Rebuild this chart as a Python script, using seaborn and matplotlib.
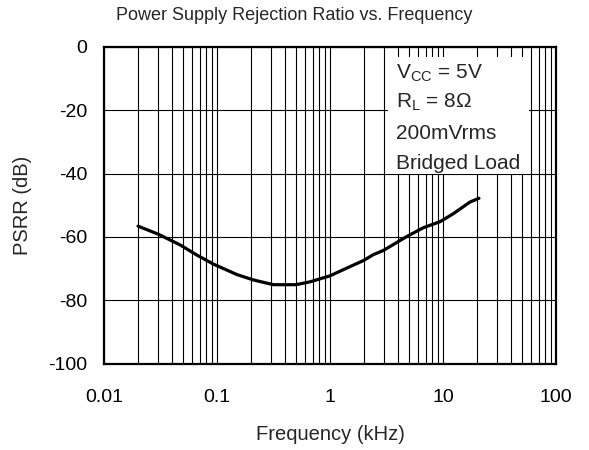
import matplotlib
matplotlib.use("Agg")
import matplotlib.pyplot as plt
import numpy as np
import pandas as pd
import seaborn as sns
from matplotlib.patches import Rectangle
from matplotlib.ticker import FixedLocator, LogLocator, NullFormatter


# values
freq_khz = [0.02, 0.03, 0.047, 0.066, 0.093, 0.15, 0.21, 0.315, 0.5, 0.665,
            1.0, 1.5, 1.97, 2.42, 2.96, 4.77, 6.7, 9.4, 12.3, 17.3, 20.8]
psrr_db = [-56.6, -59.1, -62.5, -65.7, -68.6, -71.9, -73.6, -75.1, -75.1, -74.2,
           -72.3, -69.4, -67.5, -65.6, -64.3, -59.9, -57.1, -55.2, -52.7, -49.0, -47.8]

x_ticks = [0.01, 0.1, 1, 10, 100]
x_tick_labels = ["0.01", "0.1", "1", "10", "100"]
y_ticks = [0, -20, -40, -60, -80, -100]

box_lines = [r"V$_{\rm CC}$ = 5V", r"R$_{\rm L}$ = 8Ω", "200mVrms", "Bridged Load"]


def main():
    sns.set_style("white")
    plt.rcParams["font.family"] = ["Liberation Sans", "DejaVu Sans"]
    plt.rcParams["mathtext.fontset"] = "custom"
    plt.rcParams["mathtext.rm"] = "Liberation Sans"
    plt.rcParams["axes.unicode_minus"] = False

    df = pd.DataFrame({"freq": freq_khz, "psrr": psrr_db})

    fig = plt.figure(figsize=(5.89, 4.5), dpi=100)
    ax = fig.add_axes([0.1766, 0.1922, 0.7674, 0.7034])

    sns.lineplot(data=df, x="freq", y="psrr", color="black", linewidth=2.3, ax=ax, zorder=4)

    ax.set_xscale("log")
    ax.set_xlim(0.01, 100)
    ax.set_ylim(-100, 0)
    ax.set_xticks(x_ticks)
    ax.set_xticklabels(x_tick_labels)
    ax.xaxis.set_minor_locator(LogLocator(base=10, subs=np.arange(2, 10)))
    ax.xaxis.set_minor_formatter(NullFormatter())
    ax.yaxis.set_major_locator(FixedLocator(y_ticks))

    ax.grid(True, which="major", axis="both", color="black", linewidth=0.8)
    ax.grid(True, which="minor", axis="x", color="black", linewidth=0.8)
    ax.set_axisbelow(True)

    ax.tick_params(which="both", length=0, labelsize=14, colors="black")
    ax.tick_params(axis="x", pad=18)
    ax.tick_params(axis="y", pad=12)
    for spine in ax.spines.values():
        spine.set_color("black")
        spine.set_linewidth(1.6)
        spine.set_zorder(5)

    ax.set_xlabel("Frequency (kHz)", fontsize=14.5, labelpad=14)
    ax.set_ylabel("PSRR (dB)", fontsize=14.5, labelpad=11.5)

    fig.suptitle("Power Supply Rejection Ratio vs. Frequency", x=0.5, y=0.966,
                 va="center", fontsize=13)

    # white box holding the test conditions
    ax.add_patch(Rectangle((0.628, 0.6), 0.312, 0.368, transform=ax.transAxes,
                           facecolor="white", edgecolor="none", zorder=3))
    for text, ypos in zip(box_lines, [0.918, 0.826, 0.728, 0.633]):
        ax.text(0.646, ypos, text, transform=ax.transAxes, fontsize=15,
                va="center", ha="left", zorder=6)

    fig.savefig("out.png", dpi=100)
    plt.close(fig)


if __name__ == "__main__":
    main()
